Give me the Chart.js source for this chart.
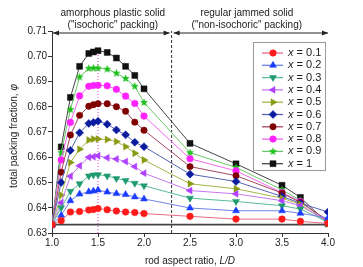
<!DOCTYPE html>
<html>
<head>
<meta charset="utf-8">
<script src="https://cdn.jsdelivr.net/npm/chart.js@4.4.1/dist/chart.umd.min.js"></script>
<style>
html, body { margin: 0; padding: 0; background: #fff; }
#wrap { width: 363px; height: 267px; }
</style>
</head>
<body>
<div id="wrap"><canvas id="c" width="363" height="267"></canvas></div>
<script>
// Données
const aspectRatio = [1.0, 1.1, 1.2, 1.3, 1.4, 1.45, 1.5, 1.6, 1.7, 1.8, 1.9, 2.0, 2.5, 3.0, 3.5, 3.7, 4.0];

const phiX01 = [0.6333, 0.6349, 0.6383, 0.6385, 0.6391, 0.6393, 0.6397, 0.6392, 0.6387, 0.6383, 0.6381, 0.6377, 0.6366, 0.6355, 0.6355, 0.6346, 0.6338];
const phiX02 = [0.6333, 0.6370, 0.6428, 0.6454, 0.6463, 0.6466, 0.6470, 0.6462, 0.6456, 0.6452, 0.6443, 0.6435, 0.6399, 0.6388, 0.6388, 0.6378, 0.6360];
const phiX03 = [0.6333, 0.6400, 0.6465, 0.6495, 0.6526, 0.6530, 0.6531, 0.6526, 0.6516, 0.6508, 0.6497, 0.6487, 0.6438, 0.6425, 0.6408, 0.6395, 0.6343];
const phiX04 = [0.6333, 0.6420, 0.6525, 0.6566, 0.6600, 0.6602, 0.6606, 0.6598, 0.6593, 0.6583, 0.6563, 0.6537, 0.6468, 0.6455, 0.6428, 0.6408, 0.6345];
const phiX05 = [0.6333, 0.6450, 0.6579, 0.6632, 0.6668, 0.6672, 0.6672, 0.6670, 0.6662, 0.6642, 0.6616, 0.6589, 0.6495, 0.6475, 0.6438, 0.6414, 0.6340];
const phiX06 = [0.6333, 0.6500, 0.6627, 0.6697, 0.6734, 0.6738, 0.6743, 0.6731, 0.6708, 0.6689, 0.6659, 0.6642, 0.6533, 0.6504, 0.6445, 0.6418, 0.6383];
const phiX07 = [0.6333, 0.6541, 0.6688, 0.6766, 0.6802, 0.6808, 0.6812, 0.6812, 0.6800, 0.6782, 0.6739, 0.6707, 0.6563, 0.6527, 0.6458, 0.6421, 0.6350];
const phiX08 = [0.6333, 0.6589, 0.6738, 0.6843, 0.6881, 0.6884, 0.6885, 0.6883, 0.6869, 0.6842, 0.6813, 0.6763, 0.6594, 0.6546, 0.6460, 0.6425, 0.6345];
const phiX09 = [0.6333, 0.6618, 0.6789, 0.6918, 0.6952, 0.6953, 0.6953, 0.6949, 0.6933, 0.6912, 0.6881, 0.6817, 0.6618, 0.6560, 0.6471, 0.6429, 0.6335];
const phiX10 = [0.6333, 0.6641, 0.6837, 0.6960, 0.7011, 0.7017, 0.7022, 0.7015, 0.6993, 0.6960, 0.6924, 0.6871, 0.6655, 0.6574, 0.6489, 0.6441, 0.6337];

const seriesLabels = ['0.1', '0.2', '0.3', '0.4', '0.5', '0.6', '0.7', '0.8', '0.9', '1'];
const seriesValues = [phiX01, phiX02, phiX03, phiX04, phiX05, phiX06, phiX07, phiX08, phiX09, phiX10];

const xTicks = [1.0, 1.5, 2.0, 2.5, 3.0, 3.5, 4.0];
const yTicks = [0.63, 0.64, 0.65, 0.66, 0.67, 0.68, 0.69, 0.70, 0.71];

const rcpLevel = 0.6333;   // ligne horizontale
const boundaryLD = 2.3;    // séparation des régimes
const peakLD = 1.5;
const peakPhi = 0.7022;

const FONT = '"Liberation Sans", Arial, sans-serif';

// Étoile pleine pour x = 0.9
function makeStar(color, r) {
    const c = document.createElement('canvas');
    const size = Math.ceil(r * 2 + 2);
    c.width = c.height = size;
    const g = c.getContext('2d');
    g.fillStyle = color;
    g.beginPath();
    for (let k = 0; k < 10; k++) {
        const a = -Math.PI / 2 + k * Math.PI / 5;
        const rr = k % 2 ? r * 0.45 : r;
        g.lineTo(size / 2 + rr * Math.cos(a), size / 2 + rr * Math.sin(a));
    }
    g.closePath();
    g.fill();
    return c;
}

// Styles des séries
const styles = [
    { mark: '#ff1a1a', line: '#e86a84', style: 'circle', rot: 0, r: 3.3 },
    { mark: '#1a3cff', line: '#6f82e6', style: 'triangle', rot: 0, r: 4 },
    { mark: '#1f9a6e', line: '#58bd96', style: 'triangle', rot: 180, r: 4 },
    { mark: '#b040ff', line: '#c777f2', style: 'triangle', rot: 270, r: 4 },
    { mark: '#8a9a10', line: '#a5b54a', style: 'triangle', rot: 90, r: 4 },
    { mark: '#0c1c9e', line: '#5563b5', style: 'rectRot', rot: 0, r: 4 },
    { mark: '#800000', line: '#a34860', style: 'circle', rot: 0, r: 3.2 },
    { mark: '#ff22ff', line: '#ef66ef', style: 'circle', rot: 0, r: 3.3 },
    { mark: '#1fbf1f', line: '#66c766', style: null, rot: 0, r: 4.2 },
    { mark: '#111111', line: '#444444', style: 'rect', rot: 0, r: 4.2 }
];
styles[8].style = makeStar(styles[8].mark, 4.2);

const datasets = seriesValues.map((vals, i) => ({
    label: 'x = ' + seriesLabels[i],
    data: aspectRatio.map((ld, j) => ({ x: ld, y: vals[j] })),
    borderColor: styles[i].line,
    borderWidth: 1,
    backgroundColor: styles[i].mark,
    pointBackgroundColor: styles[i].mark,
    pointBorderColor: styles[i].mark,
    pointBorderWidth: 0.5,
    pointStyle: styles[i].style,
    pointRotation: styles[i].rot,
    pointRadius: styles[i].r,
    tension: 0,
    order: 0
}));

// Lignes de référence
datasets.push({
    label: 'rcp',
    data: [{ x: xTicks[0], y: rcpLevel }, { x: xTicks[xTicks.length - 1], y: rcpLevel }],
    borderColor: '#444', borderWidth: 1.6, pointRadius: 0, order: 1
});
datasets.push({
    label: 'boundary',
    data: [{ x: boundaryLD, y: yTicks[0] }, { x: boundaryLD, y: yTicks[yTicks.length - 1] }],
    borderColor: '#333', borderWidth: 1, borderDash: [3, 2], pointRadius: 0, order: 1
});
datasets.push({
    label: 'peak',
    data: [{ x: peakLD, y: yTicks[0] }, { x: peakLD, y: peakPhi }],
    borderColor: '#e040e0', borderWidth: 1, borderDash: [1, 2], pointRadius: 0, order: 1
});

// Annotations, titres d'axes et légende
const overlay = {
    id: 'overlay',
    afterDraw(chart) {
        const ctx = chart.ctx;
        const area = chart.chartArea;
        const xs = chart.scales.x;
        const ys = chart.scales.y;
        const xb = xs.getPixelForValue(boundaryLD);
        const ay = area.top + 2;

        ctx.save();
        ctx.fillStyle = '#222';
        ctx.strokeStyle = '#222';
        ctx.font = '10px ' + FONT;
        ctx.textAlign = 'center';
        ctx.textBaseline = 'middle';

        // Textes du haut
        const cl = (area.left + xb) / 2 + 1;
        const cr = (xb + area.right) / 2 - 3;
        ctx.fillText('amorphous plastic solid', cl, 13.5);
        ctx.fillText('("isochoric" packing)', cl, 25);
        ctx.fillText('regular jammed solid', cr, 13.5);
        ctx.fillText('("non-isochoric" packing)', cr, 25);

        // Flèches
        function arrow(x1, x2, y) {
            ctx.lineWidth = 1;
            ctx.beginPath();
            ctx.moveTo(x1, y);
            ctx.lineTo(x2, y);
            ctx.stroke();
            [[x1, 1], [x2, -1]].forEach(([x, d]) => {
                ctx.beginPath();
                ctx.moveTo(x, y);
                ctx.lineTo(x + d * 6, y - 2.5);
                ctx.lineTo(x + d * 6, y + 2.5);
                ctx.closePath();
                ctx.fill();
            });
        }
        arrow(area.left + 1, xb - 2, ay);
        arrow(xb + 2, area.right, ay);

        // Titre axe x
        const xt1 = 'rod aspect ratio, ';
        const xt2 = 'L/D';
        ctx.textAlign = 'left';
        ctx.font = '10px ' + FONT;
        const w1 = ctx.measureText(xt1).width;
        ctx.font = 'italic 10px ' + FONT;
        const w2 = ctx.measureText(xt2).width;
        let sx = 190 - (w1 + w2) / 2;
        ctx.font = '10px ' + FONT;
        ctx.fillText(xt1, sx, 261);
        ctx.font = 'italic 10px ' + FONT;
        ctx.fillText(xt2, sx + w1, 261);

        // Titre axe y
        ctx.save();
        ctx.translate(14, 136);
        ctx.rotate(-Math.PI / 2);
        const yt1 = 'total packing fraction, ';
        const yt2 = '\u03c6';
        ctx.font = '10px ' + FONT;
        const v1 = ctx.measureText(yt1).width;
        ctx.font = 'italic 10px ' + FONT;
        const v2 = ctx.measureText(yt2).width;
        sx = -(v1 + v2) / 2;
        ctx.font = '10px ' + FONT;
        ctx.fillText(yt1, sx, 0);
        ctx.font = 'italic 10px ' + FONT;
        ctx.fillText(yt2, sx + v1, 0);
        ctx.restore();

        // Légende
        const bx = 253, by = 42, bw = 72, bh = 128;
        ctx.fillStyle = '#fff';
        ctx.fillRect(bx, by, bw, bh);
        ctx.strokeStyle = '#9a9a9a';
        ctx.lineWidth = 1;
        ctx.strokeRect(bx + 0.5, by + 0.5, bw, bh);
        seriesLabels.forEach((lab, i) => {
            const y = by + 11 + i * 12.3;
            const st = styles[i];
            ctx.strokeStyle = st.line;
            ctx.lineWidth = 1.3;
            ctx.beginPath();
            ctx.moveTo(bx + 9, y);
            ctx.lineTo(bx + 30, y);
            ctx.stroke();
            ctx.fillStyle = st.mark;
            ctx.strokeStyle = st.mark;
            ctx.lineWidth = 0.5;
            Chart.helpers.drawPoint(ctx, { pointStyle: st.style, rotation: st.rot, radius: st.r, borderWidth: 0.5 }, bx + 20, y);
            ctx.fillStyle = '#222';
            ctx.font = 'italic 11px ' + FONT;
            ctx.fillText('x', bx + 35, y);
            const wx = ctx.measureText('x').width;
            ctx.font = '11px ' + FONT;
            ctx.fillText(' = ' + lab, bx + 35 + wx, y);
        });
        ctx.restore();
    }
};

new Chart(document.getElementById('c'), {
    type: 'line',
    data: { datasets: datasets },
    options: {
        responsive: false,
        animation: false,
        devicePixelRatio: 1,
        layout: { padding: { left: 0, right: 35, top: 31, bottom: 0 } },
        plugins: { legend: { display: false }, tooltip: { enabled: false } },
        scales: {
            x: {
                type: 'linear',
                min: xTicks[0],
                max: xTicks[xTicks.length - 1],
                afterBuildTicks: s => { s.ticks = xTicks.map(v => ({ value: v })); },
                afterFit: s => { s.height = 34; },
                ticks: {
                    callback: v => Number(v).toFixed(1),
                    font: { size: 10, family: FONT },
                    color: '#222',
                    padding: 0,
                    maxRotation: 0,
                    autoSkip: false
                },
                grid: { drawOnChartArea: false, tickLength: 4, color: '#333' },
                border: { color: '#333' }
            },
            y: {
                type: 'linear',
                min: yTicks[0],
                max: yTicks[yTicks.length - 1],
                afterBuildTicks: s => { s.ticks = yTicks.map(v => ({ value: v })); },
                afterFit: s => { s.width = 52; },
                ticks: {
                    callback: v => Number(v).toFixed(2),
                    font: { size: 10, family: FONT },
                    color: '#222',
                    padding: 1,
                    autoSkip: false
                },
                grid: { drawOnChartArea: false, tickLength: 4, color: '#333' },
                border: { color: '#333' }
            }
        }
    },
    plugins: [overlay]
});
</script>
</body>
</html>
